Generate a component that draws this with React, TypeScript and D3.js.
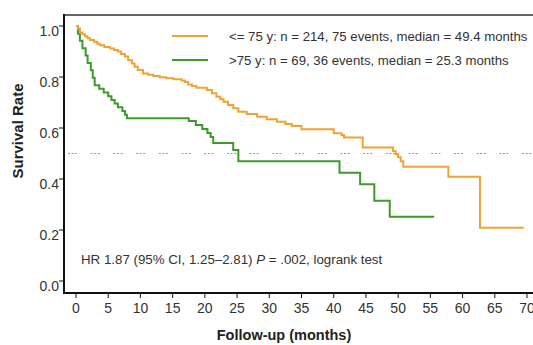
import { useEffect, useRef } from "react";
import * as d3 from "d3";

const width = 533;
const height = 345;

// step points: [months, survival after drop]
const youngTimes = [
  0, 0.3, 0.6, 1.0, 1.4, 1.8, 2.2, 2.8, 3.3, 3.7, 4.4, 5.3, 5.9, 6.5, 7.0, 7.6,
  8.1, 8.7, 9.1, 9.6, 10.4, 11.2, 12.0, 13.0, 14.0, 15.1, 16.4, 16.9, 17.4,
  18.0, 18.7, 20.3, 21.1, 21.8, 22.4, 22.9, 23.6, 24.4, 25.2, 26.5, 28.1, 29.6,
  31.2, 32.5, 33.5, 35.0, 40.0, 41.2, 41.6, 44.5, 49.2, 49.6, 50.0, 50.4, 50.8,
  57.8, 62.7, 69.5,
];
const youngSurv = [
  1.0, 0.99, 0.975, 0.968, 0.96, 0.952, 0.945, 0.938, 0.93, 0.925, 0.918, 0.912,
  0.906, 0.9, 0.89, 0.88, 0.866, 0.853, 0.84, 0.827, 0.814, 0.809, 0.804, 0.799,
  0.795, 0.791, 0.786, 0.78, 0.771, 0.765, 0.758, 0.749, 0.736, 0.723, 0.713,
  0.703, 0.69, 0.677, 0.664, 0.655, 0.644, 0.634, 0.625, 0.616, 0.608, 0.595,
  0.579, 0.573, 0.563, 0.524, 0.51, 0.497, 0.485, 0.47, 0.448, 0.409, 0.209,
  0.209,
];
const oldTimes = [
  0, 0.3, 0.6, 1.0, 1.5, 1.8, 2.3, 2.6, 2.9, 3.6, 4.3, 5.0, 5.5, 6.0, 6.5, 7.2,
  7.6, 7.9, 17.5, 18.6, 19.6, 20.4, 20.9, 21.3, 24.4, 25.2, 40.9, 44.1, 46.3,
  48.7, 55.6,
];
const oldSurv = [
  1.0, 0.97, 0.942, 0.913, 0.884, 0.855, 0.826, 0.797, 0.768, 0.754, 0.739,
  0.725, 0.71, 0.696, 0.681, 0.667, 0.652, 0.638, 0.627, 0.612, 0.596, 0.58,
  0.565, 0.541, 0.514, 0.47, 0.425, 0.379, 0.315, 0.252, 0.252,
];

const seriesLabels = [
  "<= 75 y: n = 214, 75 events, median = 49.4 months",
  ">75 y: n = 69, 36 events, median = 25.3 months",
];
const seriesColors = ["#f0a232", "#3f9a2c"];
const xTicks = [0, 5, 10, 15, 20, 25, 30, 35, 40, 45, 50, 55, 60, 65, 70];
const yTicks = [0, 0.2, 0.4, 0.6, 0.8, 1.0];

const KaplanMeier = () => {
  const svgRef = useRef<SVGSVGElement>(null);

  useEffect(() => {
    const svg = d3.select(svgRef.current);
    svg.selectAll("*").remove();

    const xScale = d3.scaleLinear().domain([0, 70]).range([76, 527]);
    const yScale = d3.scaleLinear().domain([0, 1]).range([281, 26]);
    const axisX = 64;
    const axisY = 293;
    const font = "Liberation Sans, Arial, sans-serif";

    // median reference line
    svg
      .append("line")
      .attr("x1", 68)
      .attr("x2", width)
      .attr("y1", yScale(0.5))
      .attr("y2", yScale(0.5))
      .attr("stroke", "#9a9a9a")
      .attr("stroke-width", 1)
      .attr("stroke-dasharray", "2,1.6,2,1.6,2,13.5");

    const line = d3
      .line<[number, number]>()
      .x((d) => xScale(d[0]))
      .y((d) => yScale(d[1]))
      .curve(d3.curveStepAfter);

    const series = [
      { times: oldTimes, surv: oldSurv, color: seriesColors[1] },
      { times: youngTimes, surv: youngSurv, color: seriesColors[0] },
    ];
    series.forEach((s) => {
      const pts = s.times.map((t, i) => [t, s.surv[i]] as [number, number]);
      svg
        .append("path")
        .datum(pts)
        .attr("fill", "none")
        .attr("stroke", s.color)
        .attr("stroke-width", 2)
        .attr("d", line);
    });

    // frame
    svg
      .append("line")
      .attr("x1", axisX)
      .attr("x2", width)
      .attr("y1", 15)
      .attr("y2", 15)
      .attr("stroke", "#333")
      .attr("stroke-width", 1.5);

    // y axis
    const yAxis = svg.append("g");
    yAxis
      .append("line")
      .attr("x1", axisX)
      .attr("x2", axisX)
      .attr("y1", 14)
      .attr("y2", axisY + 1)
      .attr("stroke", "#111")
      .attr("stroke-width", 2);
    yTicks.forEach((t) => {
      yAxis
        .append("line")
        .attr("x1", axisX - 5)
        .attr("x2", axisX)
        .attr("y1", yScale(t))
        .attr("y2", yScale(t))
        .attr("stroke", "#111")
        .attr("stroke-width", 1);
      yAxis
        .append("text")
        .attr("x", axisX - 5)
        .attr("y", yScale(t) + 10)
        .attr("text-anchor", "end")
        .attr("font-family", font)
        .attr("font-size", 14)
        .attr("fill", "#333")
        .text(d3.format(".1f")(t));
    });

    // x axis
    const xAxis = svg.append("g");
    xAxis
      .append("line")
      .attr("x1", axisX - 1)
      .attr("x2", width)
      .attr("y1", axisY)
      .attr("y2", axisY)
      .attr("stroke", "#111")
      .attr("stroke-width", 2);
    xTicks.forEach((t) => {
      xAxis
        .append("line")
        .attr("x1", xScale(t))
        .attr("x2", xScale(t))
        .attr("y1", axisY)
        .attr("y2", axisY + 5)
        .attr("stroke", "#111")
        .attr("stroke-width", 1);
      xAxis
        .append("text")
        .attr("x", xScale(t))
        .attr("y", 313)
        .attr("text-anchor", "middle")
        .attr("font-family", font)
        .attr("font-size", 14)
        .attr("fill", "#333")
        .text(t);
    });

    // axis titles
    svg
      .append("text")
      .attr("x", 284)
      .attr("y", 340)
      .attr("text-anchor", "middle")
      .attr("font-family", font)
      .attr("font-size", 14.5)
      .attr("font-weight", "bold")
      .attr("fill", "#222")
      .text("Follow-up (months)");
    svg
      .append("text")
      .attr("transform", "translate(23,131) rotate(-90)")
      .attr("text-anchor", "middle")
      .attr("font-family", font)
      .attr("font-size", 15)
      .attr("font-weight", "bold")
      .attr("fill", "#222")
      .text("Survival Rate");

    // legend
    seriesLabels.forEach((label, i) => {
      const ly = 36 + i * 24;
      svg
        .append("line")
        .attr("x1", 172)
        .attr("x2", 208)
        .attr("y1", ly)
        .attr("y2", ly)
        .attr("stroke", seriesColors[i])
        .attr("stroke-width", 2);
      svg
        .append("text")
        .attr("x", 229)
        .attr("y", ly + 4.5)
        .attr("font-family", font)
        .attr("font-size", 13.2)
        .attr("fill", "#333")
        .text(label);
    });

    // hazard ratio note
    const note = svg
      .append("text")
      .attr("x", 81)
      .attr("y", 264)
      .attr("font-family", font)
      .attr("font-size", 13.3)
      .attr("fill", "#333");
    note.append("tspan").text("HR 1.87 (95% CI, 1.25\u20132.81) ");
    note.append("tspan").attr("font-style", "italic").text("P");
    note.append("tspan").text(" = .002, logrank test");
  }, []);

  return (
    <svg
      ref={svgRef}
      width={width}
      height={height}
      viewBox={`0 0 ${width} ${height}`}
      style={{ position: "absolute", left: 0, top: 0, background: "#fff" }}
    ></svg>
  );
};

export default function App() {
  return <KaplanMeier />;
}
